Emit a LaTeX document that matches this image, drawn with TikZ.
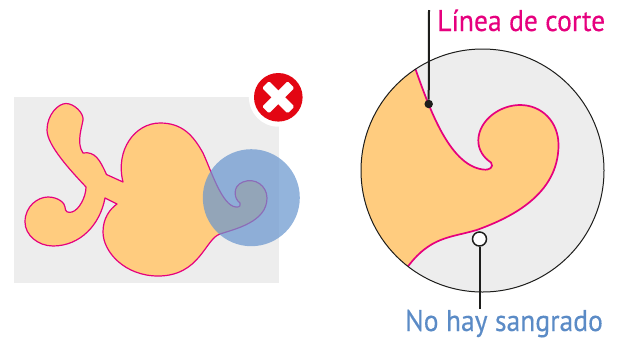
\documentclass[tikz,border=0pt]{standalone}
\usepackage{fontspec}
\newfontfamily\lblfont{PT Sans}[FakeBold=0.3]
\definecolor{pinkcut}{HTML}{E6007E}
\definecolor{bluetxt}{HTML}{5B8BC6}
\definecolor{bluecirc}{HTML}{6A97CF}
\definecolor{shape}{HTML}{FFCC7F}
\definecolor{bggray}{HTML}{EDEDED}
\definecolor{redicon}{HTML}{E30613}
\definecolor{leader}{HTML}{1D1D1B}
\tikzset{
  cutline/.style={draw=pinkcut,line join=round},
  leaderline/.style={draw=leader,line width=2pt},
  lbl/.style={inner sep=0pt,anchor=base west,xscale=0.92,font=\lblfont\fontsize{30}{32}\selectfont},
  xbar/.style={fill=white,rounded corners=1.5pt}
}
\begin{document}
\begin{tikzpicture}[x=1pt,y=-1pt]
\useasboundingbox (0,0) rectangle (621,338);
% left panel
\fill[bggray] (14,97) rectangle (279,283);
\path[cutline,fill=shape,line width=1.2pt]
  (123,182) .. controls (115,150) and (135,123) .. (160,123)
  .. controls (182,123) and (193,135) .. (203,153)
  .. controls (211,170) and (222,206) .. (236,207)
  .. controls (240,207.5) and (241,205) .. (240,203)
  .. controls (234,199) and (232,186) .. (243,182)
  .. controls (255,177) and (267,186) .. (267,198)
  .. controls (267,222) and (235,229) .. (220,234)
  .. controls (205,239) and (200,276) .. (158,276)
  .. controls (125,276) and (103,252) .. (103,232)
  .. controls (103,218) and (110,209) .. (117,204)
  -- (105,198)
  .. controls (100,225) and (80,246) .. (53,246)
  .. controls (38,246) and (25,235) .. (25,222)
  .. controls (25,206) and (38,197) .. (48,197)
  .. controls (58,197) and (65,203) .. (65,207)
  .. controls (65,212) and (68,213) .. (72,212)
  .. controls (79,210) and (86,197) .. (86,187)
  .. controls (70,170) and (47,145) .. (47,130)
  .. controls (47,115) and (58,103.5) .. (66,103.5)
  .. controls (74,103.5) and (84,113) .. (83,120)
  .. controls (82,127) and (76,143) .. (83,153)
  .. controls (95,151) and (100,160) .. (106.5,174.5)
  -- cycle;
\fill[bluecirc,opacity=0.72] (251.3,197.7) circle[radius=48.5];
% error icon
\fill[white] (278.3,97.3) circle[radius=29.4];
\fill[redicon] (278.3,97.3) circle[radius=24.3];
\fill[xbar,rotate around={45:(278.3,97.3)}] (260.3,92.5) rectangle (296.3,102.1);
\fill[xbar,rotate around={-45:(278.3,97.3)}] (260.3,92.5) rectangle (296.3,102.1);
% right panel
\fill[bggray] (482.5,170.5) circle[radius=121.5];
\begin{scope}
\clip (482.5,170.5) circle[radius=121.5];
\path[cutline,fill=shape,line width=1.7pt]
  (414,65) .. controls (428,104) and (448,165) .. (483,169.5)
  .. controls (490,170.5) and (494,167) .. (491,162.5)
  .. controls (484,158) and (478,150) .. (478.3,140)
  .. controls (479,120) and (500,105) .. (520,105)
  .. controls (542,105) and (558.5,122) .. (558.5,145)
  .. controls (558.5,195) and (510,218) .. (476.7,230)
  .. controls (450,238) and (430,236) .. (406,269)
  -- (340,269) -- (340,65) -- cycle;
\end{scope}
\draw[leader,line width=1pt] (482.5,170.5) circle[radius=121.5];
% callouts
\node[lbl,text=pinkcut] (cut) at (437,31) {Línea de corte};
\node[lbl,text=bluetxt] (bleed) at (405,331) {No hay sangrado};
\coordinate (cuttop) at (429,10);
\coordinate (bleedbottom) at (479.5,309);
\node[circle,fill=leader,inner sep=0pt,minimum size=8.5pt] (cutdot) at (428.7,104) {};
\node[circle,draw=leader,line width=1.5pt,fill=white,inner sep=0pt,minimum size=14pt] (bleedring) at (479.5,239) {};
\draw[leaderline] (cuttop) -- (cutdot);
\draw[leaderline] (bleedring) -- (bleedbottom);
\end{tikzpicture}
\end{document}
